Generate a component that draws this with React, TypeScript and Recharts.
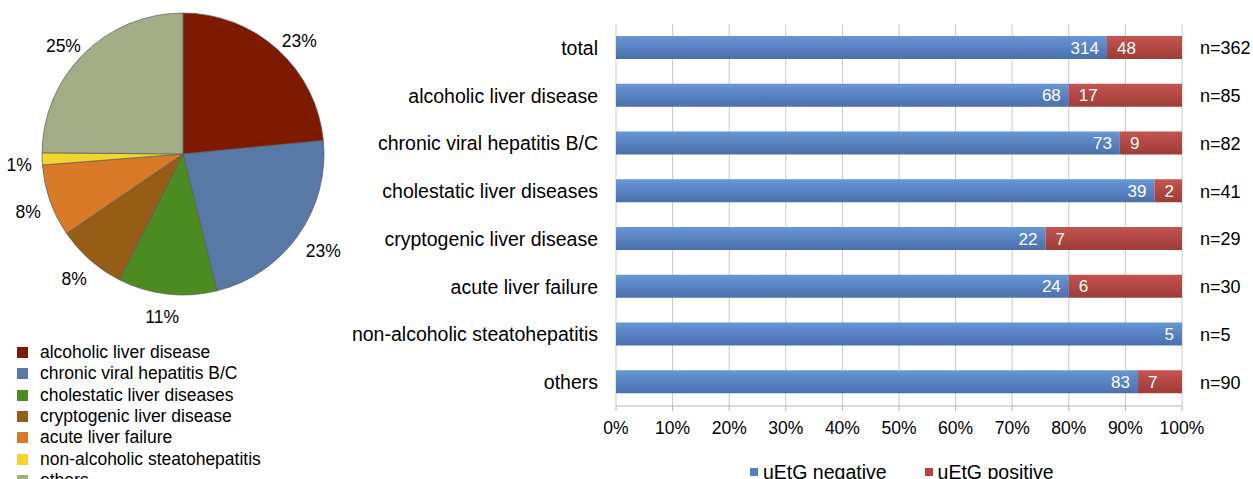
import { PieChart, Pie, Cell, BarChart, Bar, XAxis, YAxis, CartesianGrid, LabelList } from 'recharts';

const FONT = '"Liberation Sans", Arial, sans-serif';

// diagnosis groups (pie)
const pieLabels = [
  'alcoholic liver disease',
  'chronic viral hepatitis B/C',
  'cholestatic liver diseases',
  'cryptogenic liver disease',
  'acute liver failure',
  'non-alcoholic steatohepatitis',
  'others',
];
const pieCounts = [85, 82, 41, 29, 30, 5, 90];
const pieColors = ['#7e1a02', '#5878a6', '#4b8b22', '#955d16', '#d97a28', '#f3d530', '#a2ad86'];

// uEtG results per group (bars)
const barCategories = [
  'total',
  'alcoholic liver disease',
  'chronic viral hepatitis B/C',
  'cholestatic liver diseases',
  'cryptogenic liver disease',
  'acute liver failure',
  'non-alcoholic steatohepatitis',
  'others',
];
const negativeCounts = [314, 68, 73, 39, 22, 24, 5, 83];
const positiveCounts = [48, 17, 9, 2, 7, 6, 0, 7];
const xTicks = [0, 0.1, 0.2, 0.3, 0.4, 0.5, 0.6, 0.7, 0.8, 0.9, 1];

const pieData = pieLabels.map((name, i) => ({ name, value: pieCounts[i], color: pieColors[i] }));

const barData = barCategories.map((name, i) => ({
  name,
  neg: negativeCounts[i],
  pos: positiveCounts[i],
  nLabel: `n=${negativeCounts[i] + positiveCounts[i]}`,
}));

const RAD = Math.PI / 180;

// percentage labels sit just outside the rim, box pushed away from the centre
function renderPieLabel(props: any) {
  const { cx, cy, midAngle, outerRadius, percent } = props;
  const text = `${Math.round(percent * 100)}%`;
  const s = Math.cos(-midAngle * RAD);
  const c = Math.sin(-midAngle * RAD);
  const r = outerRadius + 11;
  const w = text.length * 10;
  const x = cx + r * s + (s * w) / 2 + (s > 0 ? 4 : -2);
  const y = cy + r * c + (c * 14) / 2 + 5;
  return (
    <text x={x} y={y} textAnchor="middle" dominantBaseline="central" fontSize={17.5} fontFamily={FONT} fill="#000">
      {text}
    </text>
  );
}

function App() {
  return (
    <div
      style={{
        position: 'absolute',
        left: 0,
        top: 0,
        width: 1253,
        height: 479,
        overflow: 'hidden',
        background: '#fff',
        fontFamily: FONT,
      }}
    >
      <div style={{ position: 'absolute', left: 0, top: 0 }}>
        <PieChart width={360} height={330} margin={{ top: 0, right: 0, bottom: 0, left: 0 }}>
          <Pie
            data={pieData}
            dataKey="value"
            cx={183}
            cy={154}
            outerRadius={141}
            startAngle={90}
            endAngle={-270}
            stroke="#5a5a5a"
            strokeWidth={0.7}
            label={renderPieLabel}
            labelLine={false}
            isAnimationActive={false}
          >
            {pieData.map((d) => (
              <Cell key={d.name} fill={d.color} />
            ))}
          </Pie>
        </PieChart>
      </div>

      <div style={{ position: 'absolute', left: 17, top: 342 }}>
        {pieData.map((d) => (
          <div key={d.name} style={{ display: 'flex', alignItems: 'center', height: 21.3 }}>
            <span style={{ width: 11, height: 11, background: d.color, display: 'inline-block', marginRight: 12 }} />
            <span style={{ fontSize: 17.5, color: '#000', whiteSpace: 'nowrap' }}>{d.name}</span>
          </div>
        ))}
      </div>

      <div style={{ position: 'absolute', left: 340, top: 0 }}>
        <BarChart
          width={913}
          height={479}
          data={barData}
          layout="vertical"
          stackOffset="expand"
          barSize={23}
          margin={{ top: 24, right: 0, bottom: 43, left: 0 }}
        >
          <defs>
            <linearGradient id="negFill" x1="0" y1="0" x2="0" y2="1">
              <stop offset="0%" stopColor="#6896d8" />
              <stop offset="100%" stopColor="#4a6fab" />
            </linearGradient>
            <linearGradient id="posFill" x1="0" y1="0" x2="0" y2="1">
              <stop offset="0%" stopColor="#c5544f" />
              <stop offset="100%" stopColor="#9e3c37" />
            </linearGradient>
          </defs>
          <CartesianGrid horizontal={false} stroke="#c8c8c8" />
          <XAxis
            type="number"
            domain={[0, 1]}
            ticks={xTicks}
            tickFormatter={(v: number) => `${Math.round(v * 100)}%`}
            height={30}
            axisLine={{ stroke: '#b4b4b4' }}
            tickLine={{ stroke: '#b4b4b4' }}
            tickSize={5}
            tickMargin={11}
            tick={{ fontSize: 17.5, fill: '#000', fontFamily: FONT }}
          />
          <YAxis
            type="category"
            dataKey="name"
            width={276}
            axisLine={false}
            tickLine={false}
            tickSize={0}
            tickMargin={18}
            interval={0}
            tick={{ fontSize: 19.5, fill: '#000', fontFamily: FONT }}
          />
          <YAxis
            yAxisId="n"
            orientation="right"
            type="category"
            dataKey="nLabel"
            width={71}
            axisLine={false}
            tickLine={false}
            tickSize={0}
            tickMargin={18}
            interval={0}
            tick={{ fontSize: 18, fill: '#000', fontFamily: FONT, textAnchor: 'start' }}
          />
          <Bar dataKey="neg" stackId="a" fill="url(#negFill)" isAnimationActive={false}>
            <LabelList
              dataKey="neg"
              position="insideRight"
              offset={8}
              fill="#fff"
              fontSize={17}
              fontFamily={FONT}
            />
          </Bar>
          <Bar dataKey="pos" stackId="a" fill="url(#posFill)" isAnimationActive={false}>
            <LabelList
              dataKey="pos"
              position="insideLeft"
              offset={10}
              fill="#fff"
              fontSize={17}
              fontFamily={FONT}
              formatter={(v: any) => (v ? v : '')}
            />
          </Bar>
        </BarChart>
      </div>

      <div style={{ position: 'absolute', left: 750, top: 462, display: 'flex', alignItems: 'center', height: 20 }}>
        <span style={{ width: 8, height: 8, background: '#5580c2', display: 'inline-block', marginRight: 5 }} />
        <span style={{ fontSize: 19.5, color: '#000', marginRight: 38, whiteSpace: 'nowrap' }}>uEtG negative</span>
        <span style={{ width: 8, height: 8, background: '#b5463f', display: 'inline-block', marginRight: 5 }} />
        <span style={{ fontSize: 19.5, color: '#000', whiteSpace: 'nowrap' }}>uEtG positive</span>
      </div>
    </div>
  );
}

export default App;
